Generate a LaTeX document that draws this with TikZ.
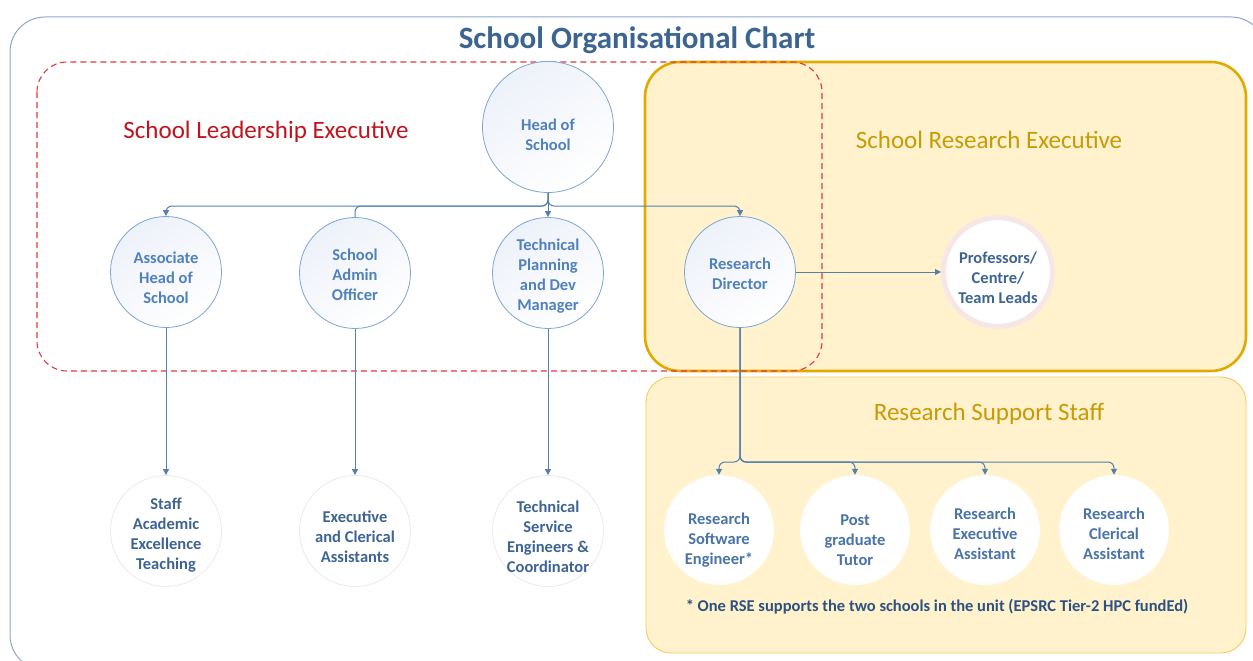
\documentclass[tikz,border=0pt]{standalone}
\usepackage{fontspec}
\setmainfont{Carlito}
\usetikzlibrary{arrows.meta}
\definecolor{outerc}{HTML}{8EA9C8}
\definecolor{titlec}{HTML}{3B6590}
\definecolor{redd}{HTML}{E0393E}
\definecolor{redt}{HTML}{C0141C}
\definecolor{goldc}{HTML}{E2A900}
\definecolor{goldt}{HTML}{C99A06}
\definecolor{lightgold}{HTML}{F2CB62}
\definecolor{paley}{HTML}{FFF2CC}
\definecolor{lonestroke}{HTML}{7EA6D2}
\definecolor{lonetop}{HTML}{EDF1F9}
\definecolor{lonetext}{HTML}{4F81BD}
\definecolor{ltwotext}{HTML}{3E6494}
\definecolor{ltwostroke}{HTML}{EBEBEB}
\definecolor{brtext}{HTML}{4A74A8}
\definecolor{ringc}{HTML}{F6E6E6}
\definecolor{connc}{HTML}{5580AE}
\definecolor{footc}{HTML}{2D5282}
\tikzset{
  nodefont/.style={font=\fontsize{16.5}{20}\selectfont\bfseries},
  ctext/.style={align=center, nodefont, inner sep=0pt},
  lvlone/.style={circle, draw=lonestroke, line width=0.8pt, top color=lonetop, bottom color=white, shading angle=35,
    inner sep=0pt, minimum size=111pt},
  lvltwo/.style={circle, draw=ltwostroke, line width=0.8pt, fill=white, inner sep=0pt, minimum size=111pt},
  brnode/.style={circle, draw=paley!60!white, line width=0.5pt, fill=white, inner sep=0pt, minimum size=110pt},
  profnode/.style={circle, draw=ringc, line width=5pt, fill=white, inner sep=0pt, minimum size=109pt},
  conn/.style={draw=connc, line width=1pt, rounded corners=6pt},
  arr/.style={-{Triangle[length=6pt,width=6pt]}},
  grouptitle/.style={font=\fontsize{25}{28}\selectfont, inner sep=0pt}
}
\begin{document}
\begin{tikzpicture}[x=1pt,y=-1pt]
\useasboundingbox (0,0) rectangle (1253,661);
\clip (0,0) rectangle (1253,661);
\fill[white] (0,0) rectangle (1253,661);
% boxes
\draw[outerc, line width=1pt, rounded corners=35pt] (10,17) rectangle (1266,670);
\draw[goldc, line width=2.6pt, fill=paley, rounded corners=35pt] (645,62) rectangle (1246,371);
\draw[lightgold, line width=0.9pt, fill=paley, rounded corners=25pt] (646,377) rectangle (1246,653);
\draw[redd, line width=1.1pt, dash pattern=on 6pt off 4pt, rounded corners=30pt] (37,62) rectangle (822,371);
% titles
\node[font=\fontsize{31}{34}\selectfont\bfseries, text=titlec, inner sep=0pt] (title) at (637,40) {School Organisational Chart};
\node[grouptitle, text=redt] (sle) at (266,132) {School Leadership Executive};
\node[grouptitle, text=goldt] (sre) at (989,140) {School Research Executive};
\node[grouptitle, text=goldt] (rss) at (989,414) {Research Support Staff};
% junctions
\coordinate (j1) at (548,206);
\coordinate (j2) at (740,462);
% nodes
\node[lvlone, minimum size=131pt, label={[ctext, text=lonetext, yshift=-8pt]center:{Head of\\School}}] (hos) at (548,127) {};
\node[lvlone, label={[ctext, text=lonetext, yshift=-6pt]center:{Associate\\Head of\\School}}] (assoc) at (166,272) {};
\node[lvlone, label={[ctext, text=lonetext, yshift=-2pt]center:{School\\Admin\\Officer}}] (admin) at (355,273) {};
\node[lvlone, label={[ctext, text=lonetext, yshift=-3pt]center:{Technical\\Planning\\and Dev\\Manager}}] (tech) at (548,273) {};
\node[lvlone, label={[ctext, text=lonetext, yshift=-2pt]center:{Research\\Director}}] (rd) at (740,272) {};
\node[profnode, label={[ctext, text=ltwotext, yshift=-6pt]center:{Professors/\\Centre/\\Team Leads}}] (prof) at (998,272) {};
\node[lvltwo, label={[ctext, text=ltwotext, yshift=-4pt]center:{Staff\\Academic\\Excellence\\Teaching}}] (sae) at (166,531) {};
\node[lvltwo, label={[ctext, text=ltwotext, yshift=-6pt]center:{Executive\\and Clerical\\Assistants}}] (eca) at (355,531) {};
\node[lvltwo, label={[ctext, text=ltwotext, yshift=-6pt]center:{Technical\\Service\\Engineers \&\\Coordinator}}] (tse) at (548,531) {};
\node[brnode, label={[ctext, text=brtext, yshift=-10pt]center:{Research\\Software\\Engineer*}}] (rse) at (719,530) {};
\node[brnode, label={[ctext, text=brtext, yshift=-10pt]center:{Post\\graduate\\Tutor}}] (pg) at (855,530) {};
\node[brnode, label={[ctext, text=brtext, yshift=-4pt]center:{Research\\Executive\\Assistant}}] (rea) at (985,530) {};
\node[brnode, label={[ctext, text=brtext, yshift=-4pt]center:{Research\\Clerical\\Assistant}}] (rca) at (1114,530) {};
\node[font=\fontsize{16.5}{19}\selectfont\bfseries, text=footc, inner sep=0pt] (foot) at (937,607) {* One RSE supports the two schools in the unit (EPSRC Tier-2 HPC fundEd)};
% connectors
\draw[conn,arr] (hos.south) -- (j1) -| (assoc.north);
\draw[conn] (hos.south) -- (j1) -| (admin.north);
\draw[conn,arr] (hos.south) -- (tech.north);
\draw[conn,arr] (hos.south) -- (j1) -| (rd.north);
\draw[conn,arr] (rd.east) -- (prof.west);
\draw[conn,arr] (assoc.south) -- (sae.north);
\draw[conn,arr] (admin.south) -- (eca.north);
\draw[conn,arr] (tech.south) -- (tse.north);
\draw[conn,arr] (rd.south) -- (j2) -| (rse.north);
\draw[conn,arr] (rd.south) -- (j2) -| (pg.north);
\draw[conn,arr] (rd.south) -- (j2) -| (rea.north);
\draw[conn,arr] (rd.south) -- (j2) -| (rca.north);
\end{tikzpicture}
\end{document}
